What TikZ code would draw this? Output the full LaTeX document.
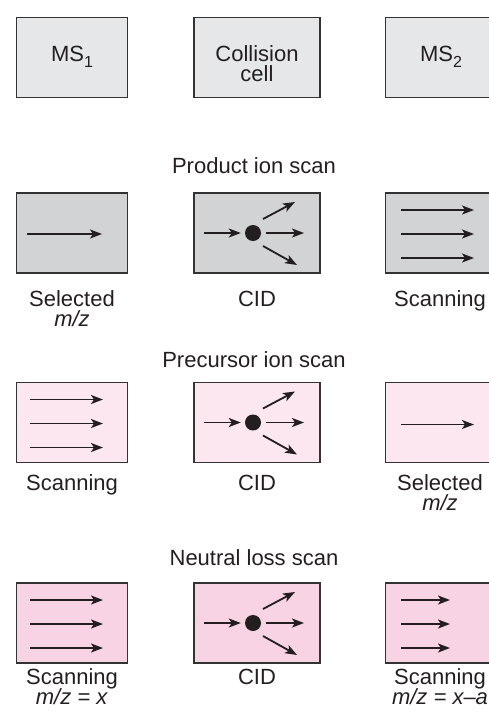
\documentclass[tikz,border=0pt]{standalone}
\usepackage{fontspec}
\setmainfont{Liberation Sans}
\usetikzlibrary{arrows.meta,calc}

\definecolor{ink}{HTML}{231F20}
\definecolor{edge}{HTML}{333333}
\definecolor{headfill}{HTML}{E6E7E8}
\definecolor{prodfill}{HTML}{D1D3D4}
\definecolor{precfill}{HTML}{FCE7F0}
\definecolor{neutfill}{HTML}{F8D3E4}

\tikzset{
  unit/.style={draw=edge, line width=1.8pt, minimum height=80pt, inner sep=0pt},
  sidebox/.style={unit, minimum width=111pt},
  cellbox/.style={unit, minimum width=126pt},
  ray/.style={draw=ink, line width=1.8pt, -{Stealth[length=12pt,width=9pt,inset=3pt]}},
  word/.style={font=\fontsize{22}{20}\selectfont, text=ink, inner sep=0pt, anchor=base},
  core/.style={fill=ink, draw=none, circle, minimum size=16pt, inner sep=0pt},
}

% stage index written below the line
\newcommand{\stageidx}[1]{\raisebox{-0.28em}{\fontsize{16}{16}\selectfont #1}}

% three parallel beams inside a box
\newcommand{\beams}[3]{%
  \foreach \dy in {-23,1,25}
    \draw[ray] ($(#1)+(#2,\dy)$) -- ($(#1)+(#3,\dy)$);}

% collision-induced dissociation: incoming beam, target, three fragments
\newcommand{\cidfan}[2]{%
  \node[core] (#2) at ($(#1)+(-4,0)$) {};
  \draw[ray] ($(#1)+(-53,0)$) -- ($(#2.west)+(-4,0)$);
  \draw[ray] ($(#1)+(9,0)$) -- ($(#1)+(47,0)$);
  \draw[ray] ($(#1)+(6,-14)$) -- ($(#1)+(38,-31)$);
  \draw[ray] ($(#1)+(6,13)$) -- ($(#1)+(40,32)$);}

\begin{document}
\begin{tikzpicture}[x=1pt, y=-1pt]
\useasboundingbox (0,0) rectangle (488,713);

% ---- instrument stages ----
\node[sidebox, fill=headfill] (ms1) at (72,57.5) {};
\node[cellbox, fill=headfill] (cc) at (257,57.5) {};
\node[sidebox, fill=headfill] (ms2) at (441,57.5) {};
\node[word] (tms1) at (72,61) {MS\stageidx{1}};
\node[word] (tcc1) at (257,61) {Collision};
\node[word] (tcc2) at (257,81) {cell};
\node[word] (tms2) at (441,61) {MS\stageidx{2}};

% ---- product ion scan ----
\node[word] (hprod) at (254,173) {Product ion scan};
\node[sidebox, fill=prodfill] (p1) at (72,233) {};
\node[cellbox, fill=prodfill] (p2) at (257,233) {};
\node[sidebox, fill=prodfill] (p3) at (441,233) {};
\draw[ray] ($(p1)+(-45,1)$) -- ($(p1)+(30,1)$);
\cidfan{p2}{pdot}
\beams{p3}{-40}{33}
\node[word] (pl1a) at (72,306) {Selected};
\node[word] (pl1b) at (72,326) {\textit{m/z}};
\node[word] (pl2) at (257,306) {CID};
\node[word] (pl3) at (440,306) {Scanning};

% ---- precursor ion scan ----
\node[word] (hprec) at (254,367) {Precursor ion scan};
\node[sidebox, fill=precfill] (r1) at (72,422.5) {};
\node[cellbox, fill=precfill] (r2) at (257,422.5) {};
\node[sidebox, fill=precfill] (r3) at (441,422.5) {};
\beams{r1}{-42}{31}
\cidfan{r2}{rdot}
\draw[ray] ($(r3)+(-40,2)$) -- ($(r3)+(33,2)$);
\node[word] (rl1) at (72,490) {Scanning};
\node[word] (rl2) at (257,490) {CID};
\node[word] (rl3a) at (440,490) {Selected};
\node[word] (rl3b) at (440,510) {\textit{m/z}};

% ---- neutral loss scan ----
\node[word] (hneut) at (254,565) {Neutral loss scan};
\node[sidebox, fill=neutfill] (n1) at (72,623) {};
\node[cellbox, fill=neutfill] (n2) at (257,623) {};
\node[sidebox, fill=neutfill] (n3) at (441,623) {};
\beams{n1}{-42}{31}
\cidfan{n2}{ndot}
\beams{n3}{-40}{9}
\node[word] (nl1a) at (72,684) {Scanning};
\node[word] (nl1b) at (72,704) {\textit{m/z = x}};
\node[word] (nl2) at (257,684) {CID};
\node[word] (nl3a) at (440,684) {Scanning};
\node[word] (nl3b) at (440,704) {\textit{m/z = x–a}};
\end{tikzpicture}
\end{document}
